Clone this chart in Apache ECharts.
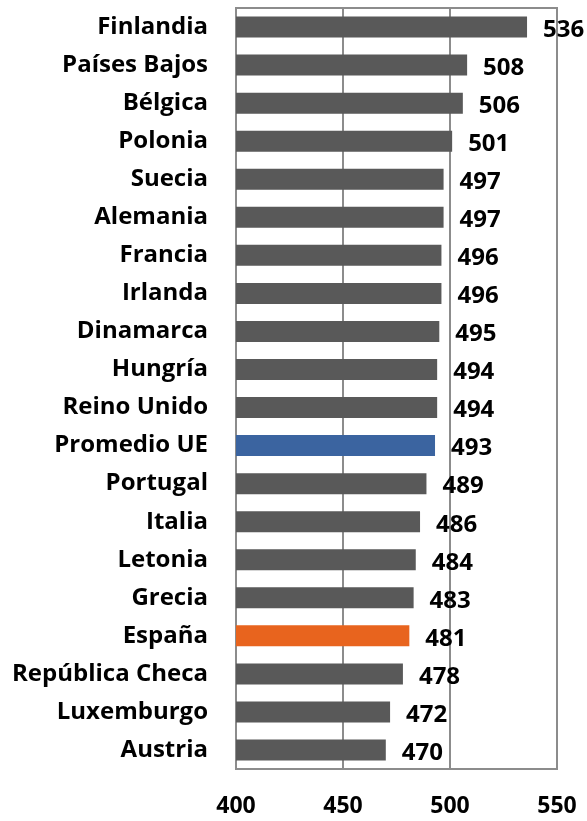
<!DOCTYPE html>
<html>
<head>
<meta charset="utf-8">
<script src="https://cdn.jsdelivr.net/npm/echarts@6/dist/echarts.min.js"></script>
<style>
    html, body { margin: 0; padding: 0; background: #fff; }
    #chart { width: 587px; height: 821px; }
</style>
</head>
<body>
<div id="chart"></div>
<script>
var countries = ['Finlandia', 'Países Bajos', 'Bélgica', 'Polonia', 'Suecia', 'Alemania', 'Francia',
    'Irlanda', 'Dinamarca', 'Hungría', 'Reino Unido', 'Promedio UE', 'Portugal', 'Italia',
    'Letonia', 'Grecia', 'España', 'República Checa', 'Luxemburgo', 'Austria'];
var scores = [536, 508, 506, 501, 497, 497, 496, 496, 495, 494, 494, 493, 489, 486, 484, 483, 481, 478, 472, 470];

var chart = echarts.init(document.getElementById('chart'));

function barColor(name) {
    if (name === 'Promedio UE') return '#3b64a0';
    if (name === 'España') return '#e8641e';
    return '#595959';
}

var seriesData = [];
for (var i = 0; i < countries.length; i++) {
    seriesData.push({
        value: scores[i],
        itemStyle: { color: barColor(countries[i]) }
    });
}

var font = 'Open Sans';

chart.setOption({
    animation: false,
    grid: {
        left: 236,
        right: 30,
        top: 8,
        bottom: 52,
        show: true,
        borderColor: '#8c8c8c',
        borderWidth: 2
    },
    xAxis: {
        type: 'value',
        min: 400,
        max: 550,
        interval: 50,
        axisLine: { show: false },
        axisTick: { show: false },
        splitLine: { lineStyle: { color: '#8c8c8c', width: 2 } },
        axisLabel: {
            margin: 26,
            color: '#000',
            fontFamily: font,
            fontWeight: 'bold',
            fontSize: 23
        }
    },
    yAxis: {
        type: 'category',
        inverse: true,
        data: countries,
        axisLine: { show: true, lineStyle: { color: '#8c8c8c', width: 2 } },
        axisTick: { show: false },
        axisLabel: {
            margin: 28,
            color: '#000',
            fontFamily: font,
            fontWeight: 'bold',
            fontSize: 24
        }
    },
    series: [{
        type: 'bar',
        data: seriesData,
        barWidth: 21,
        label: {
            show: true,
            position: 'right',
            distance: 16,
            offset: [0, 3],
            color: '#000',
            fontFamily: font,
            fontWeight: 'bold',
            fontSize: 24
        }
    }]
});
</script>
</body>
</html>
